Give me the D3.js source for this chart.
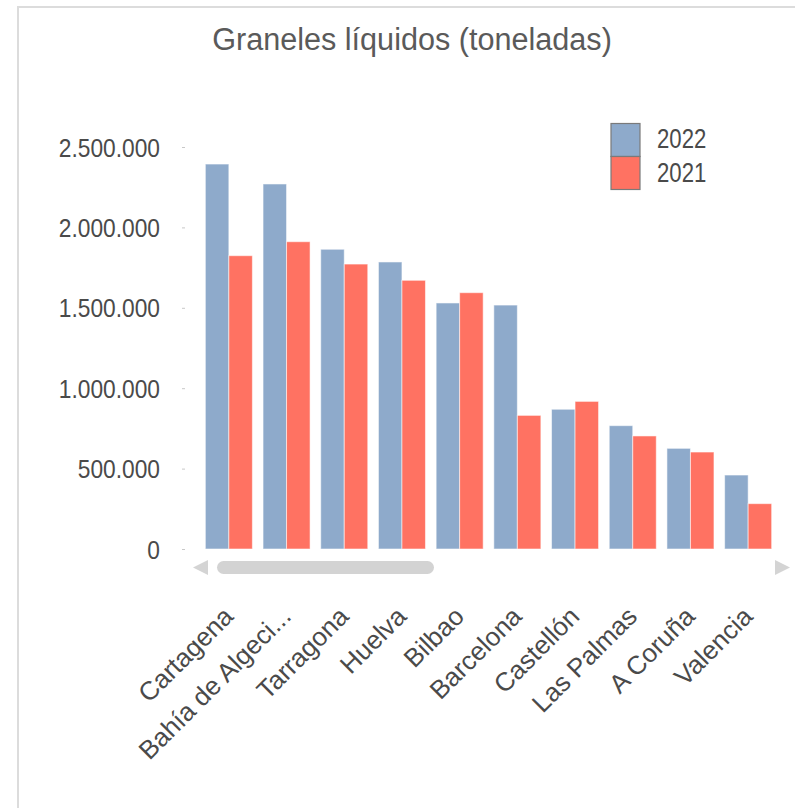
<!DOCTYPE html>
<html>
<head>
<meta charset="utf-8">
<script src="https://cdn.jsdelivr.net/npm/d3@7"></script>
<style>
  html, body { margin: 0; padding: 0; background: #fff; }
  svg { display: block; }
</style>
</head>
<body>
<svg id="chart" width="795" height="808"></svg>
<script>
// ---- data ----
const title = "Graneles líquidos (toneladas)";
const categories = ["Cartagena", "Bahía de Algeciras", "Tarragona", "Huelva", "Bilbao",
                    "Barcelona", "Castellón", "Las Palmas", "A Coruña", "Valencia"];
const seriesNames = ["2022", "2021"];
const values2022 = [2394000, 2270000, 1864000, 1785000, 1530000, 1517000, 869000, 767000, 626000, 460000];
const values2021 = [1824000, 1911000, 1772000, 1671000, 1594000, 831000, 918000, 703000, 603000, 282000];
const yTicks = [0, 500000, 1000000, 1500000, 2000000, 2500000];

// ---- styles ----
const colors = { "2022": "#8eaacb", "2021": "#ff7262" };
const textColor = "#4a4a4a";
const sans = "'Liberation Sans', Arial, sans-serif";

const svg = d3.select("#chart");

// frame
svg.append("path")
  .attr("d", "M18,808 L18,7 L795,7")
  .attr("fill", "none").attr("stroke", "#dcdcdc").attr("stroke-width", 2);

// title
svg.append("text")
  .attr("x", 412).attr("y", 50)
  .attr("text-anchor", "middle")
  .attr("font-family", sans).attr("font-size", 30.6)
  .attr("fill", "#5a5a5a")
  .text(title);

// scales
const x = d3.scaleBand().domain(categories).range([200, 777]).paddingInner(0.185).paddingOuter(0.0925);
const xs = d3.scaleBand().domain(seriesNames).range([0, x.bandwidth()]);
const y = d3.scaleLinear().domain([0, 2500000]).range([549, 147]);

const fmt = v => d3.format(",")(v).replace(/,/g, ".");

function condense(factor) {
  return sel => sel.each(function () {
    const w = this.getComputedTextLength();
    d3.select(this).attr("textLength", w * factor).attr("lengthAdjust", "spacingAndGlyphs");
  });
}

// y axis
const yAxis = svg.append("g")
  .attr("transform", "translate(185,0)")
  .call(d3.axisLeft(y).tickValues(yTicks).tickSize(3).tickPadding(22).tickFormat(fmt));
yAxis.select(".domain").remove();
yAxis.selectAll(".tick line").attr("stroke", "#c8c8c8");
yAxis.selectAll(".tick text")
  .attr("font-family", sans).attr("font-size", 25).attr("fill", textColor)
  .attr("dy", "0.36em")
  .call(condense(0.91));

// bars
const rows = categories.map((c, i) => ({ cat: c, vals: [
  { key: "2022", v: values2022[i] }, { key: "2021", v: values2021[i] } ] }));

const groups = svg.append("g").selectAll("g").data(rows).join("g")
  .attr("transform", d => `translate(${x(d.cat)},0)`);
groups.selectAll("rect").data(d => d.vals).join("rect")
  .attr("x", d => xs(d.key))
  .attr("width", xs.bandwidth())
  .attr("y", d => y(d.v))
  .attr("height", d => y(0) - y(d.v))
  .attr("fill", d => colors[d.key])
  .attr("stroke", "rgba(255,255,255,0.55)")
  .attr("stroke-width", 1);

// x labels
const label = c => c.length > 15 ? c.slice(0, 15) + "..." : c;
svg.append("g").selectAll("text").data(categories).join("text")
  .attr("transform", d => `translate(${x(d) + x.bandwidth() / 2 + 6},618) rotate(-45)`)
  .attr("text-anchor", "end")
  .attr("font-family", sans).attr("font-size", 26)
  .attr("fill", textColor)
  .text(d => label(d));

// scrollbar (decorative)
const sb = svg.append("g");
sb.append("path").attr("d", "M193,567.5 L208,560 L208,575 Z").attr("fill", "#d4d4d4");
sb.append("rect").attr("x", 217).attr("y", 561).attr("width", 217).attr("height", 13)
  .attr("rx", 6.5).attr("fill", "#d3d3d3");
sb.append("path").attr("d", "M775,560 L790,567.5 L775,575 Z").attr("fill", "#d4d4d4");

// legend
const legend = svg.append("g");
seriesNames.forEach((s, i) => {
  legend.append("rect")
    .attr("x", 611).attr("y", 123.5 + i * 33)
    .attr("width", 29).attr("height", 33)
    .attr("fill", colors[s]).attr("stroke", "#7a7a7a").attr("stroke-width", 1.2);
  legend.append("text")
    .attr("x", 657).attr("y", 148 + i * 34)
    .attr("font-family", sans).attr("font-size", 27).attr("fill", textColor)
    .text(s)
    .call(condense(0.82));
});
</script>
</body>
</html>
